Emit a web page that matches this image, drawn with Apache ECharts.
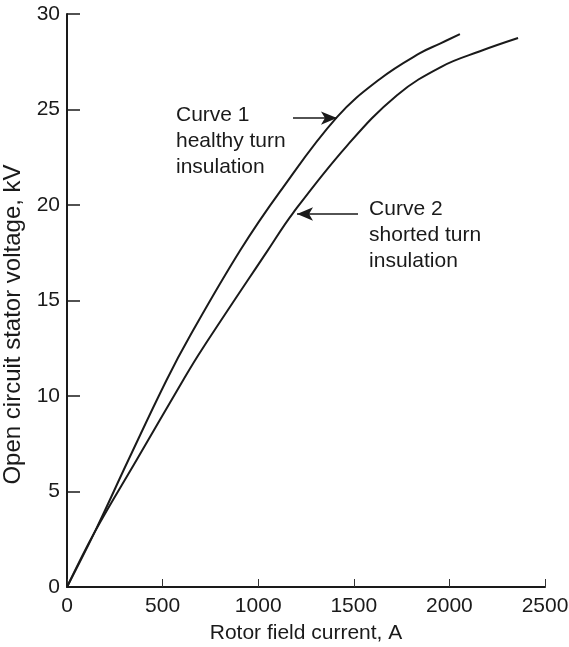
<!DOCTYPE html>
<html>
<head>
<meta charset="utf-8">
<script src="https://cdn.jsdelivr.net/npm/echarts@6/dist/echarts.min.js"></script>
<style>
html,body{margin:0;padding:0;background:#fff;}
#chart{width:569px;height:647px;}
</style>
</head>
<body>
<div id="chart"></div>
<script>
// Curve 1: healthy turn insulation
const currentC1 = [0, 146, 321, 521, 643, 907, 1114, 1412, 1637, 1846, 1951, 2055];
const voltageC1 = [0, 2.9, 6.65, 10.84, 13.14, 17.64, 20.7, 24.6, 26.6, 27.95, 28.45, 28.95];
// Curve 2: shorted turn insulation
const currentC2 = [0, 146, 364, 608, 704, 1051, 1182, 1464, 1726, 1960, 2160, 2359];
const voltageC2 = [0, 2.9, 6.65, 10.84, 12.41, 17.64, 19.58, 23.1, 25.75, 27.25, 28.05, 28.74];

const xTicks = [0, 500, 1000, 1500, 2000, 2500];
const yTicks = [0, 5, 10, 15, 20, 25, 30];

const xTitle = 'Rotor field current, A';
const yTitle = 'Open circuit stator voltage, kV';

const label1 = ['Curve 1', 'healthy turn', 'insulation'];
const label2 = ['Curve 2', 'shorted turn', 'insulation'];
// annotation anchors (data coords)
const label1At = [570, 25.4];
const label2At = [1580, 20.46];
// arrows: [from, to] in data coords
const arrow1 = [[1182, 24.55], [1412, 24.55]];
const arrow2 = [[1522, 19.53], [1203, 19.53]];

const ink = '#1a1a1a';
const font = "'Liberation Sans', Arial, Helvetica, sans-serif";

function pairs(xs, ys) { return xs.map((x, i) => [x, ys[i]]); }

const chart = echarts.init(document.getElementById('chart'), null, {renderer: 'canvas'});

const txtStyle = {
  show: true,
  position: [0, 0],
  align: 'left',
  verticalAlign: 'top',
  color: ink,
  fontFamily: font,
  fontSize: 21,
  lineHeight: 26
};

chart.setOption({
  animation: false,
  backgroundColor: '#fff',
  grid: {left: 67, right: 24, top: 14, bottom: 60, containLabel: false, outerBoundsMode: 'none'},
  xAxis: {
    type: 'value',
    min: xTicks[0], max: xTicks[xTicks.length - 1], interval: 500,
    name: xTitle, nameLocation: 'middle', nameGap: 36,
    nameTextStyle: {color: ink, fontFamily: font, fontSize: 21},
    axisLine: {show: true, onZero: false, lineStyle: {color: ink, width: 2}},
    axisTick: {show: true, inside: true, length: 8, lineStyle: {color: '#333', width: 1}},
    axisLabel: {color: ink, fontFamily: font, fontSize: 21, margin: 9, formatter: v => String(v)},
    splitLine: {show: false}
  },
  yAxis: {
    type: 'value',
    min: yTicks[0], max: yTicks[yTicks.length - 1], interval: 5,
    name: yTitle, nameLocation: 'middle', nameGap: 39, nameRotate: 90,
    nameTextStyle: {color: ink, fontFamily: font, fontSize: 24, padding: [0, 48, 0, 0]},
    axisLine: {show: true, onZero: false, lineStyle: {color: ink, width: 2}},
    axisTick: {show: true, inside: true, length: 13, lineStyle: {color: ink, width: 1.5}},
    axisLabel: {color: ink, fontFamily: font, fontSize: 21, margin: 7, formatter: v => String(v)},
    splitLine: {show: false}
  },
  series: [
    {
      name: 'Curve 1',
      type: 'line',
      data: pairs(currentC1, voltageC1),
      smooth: 0.4,
      showSymbol: false,
      symbol: 'none',
      lineStyle: {color: ink, width: 2},
      markPoint: {
        silent: true,
        symbol: 'circle', symbolSize: 0,
        data: [{coord: label1At, value: label1.join('\n')}],
        label: Object.assign({}, txtStyle, {formatter: p => p.value})
      },
      markLine: {
        silent: true,
        symbol: ['none', 'arrow'],
        symbolSize: [10, 16],
        label: {show: false},
        lineStyle: {color: ink, width: 1.5, type: 'solid'},
        data: [[{coord: arrow1[0]}, {coord: arrow1[1]}]]
      }
    },
    {
      name: 'Curve 2',
      type: 'line',
      data: pairs(currentC2, voltageC2),
      smooth: 0.4,
      showSymbol: false,
      symbol: 'none',
      lineStyle: {color: ink, width: 2},
      markPoint: {
        silent: true,
        symbol: 'circle', symbolSize: 0,
        data: [{coord: label2At, value: label2.join('\n')}],
        label: Object.assign({}, txtStyle, {formatter: p => p.value})
      },
      markLine: {
        silent: true,
        symbol: ['none', 'arrow'],
        symbolSize: [10, 16],
        label: {show: false},
        lineStyle: {color: ink, width: 1.5, type: 'solid'},
        data: [[{coord: arrow2[0]}, {coord: arrow2[1]}]]
      }
    }
  ]
});
</script>
</body>
</html>
